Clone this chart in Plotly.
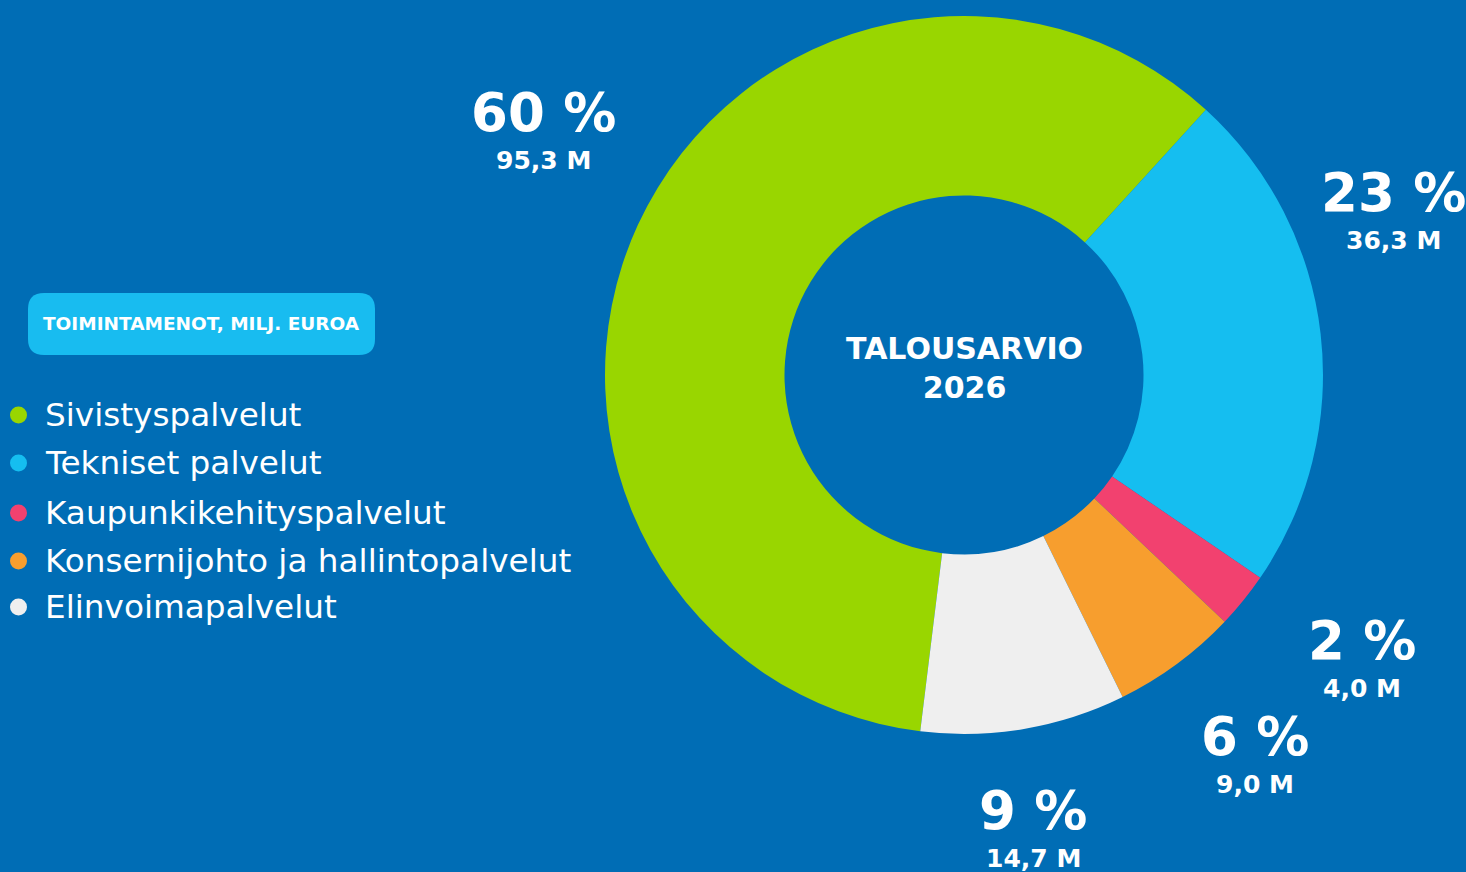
import plotly.graph_objects as go

categories = ["Sivistyspalvelut", "Tekniset palvelut", "Kaupunkikehityspalvelut",
              "Konsernijohto ja hallintopalvelut", "Elinvoimapalvelut"]
values_meur = [95.3, 36.3, 4.0, 9.0, 14.7]
percent_labels = ["60 %", "23 %", "2 %", "6 %", "9 %"]
value_labels = ["95,3 M", "36,3 M", "4,0 M", "9,0 M", "14,7 M"]
center_title = "TALOUSARVIO<br>2026"
legend_title = "TOIMINTAMENOT, MILJ. EUROA"

colors = ["#99D600", "#15BEF0", "#F2416F", "#F79E2E", "#EFEFEF"]
BG = "#006DB5"
W, H = 1466, 872
FONT = "DejaVu Sans"

# label anchor positions in pixels (style)
label_pos = [(543, 112), (1393, 192), (1362, 640), (1255, 736), (1033, 810)]
legend_y = [415, 463, 513, 561, 607]

def px(x):
    return x / W

def py(y):
    return 1 - y / H

cx, cy, R = 964, 375, 359
fig = go.Figure(go.Pie(
    labels=categories, values=values_meur, sort=False, direction="clockwise",
    rotation=187, hole=0.5, textinfo="none",
    marker=dict(colors=colors, line=dict(width=0)),
    domain=dict(x=[px(cx - R), px(cx + R)], y=[py(cy + R), py(cy - R)]),
    showlegend=False,
))

ann = []
for (x, y), p, v in zip(label_pos, percent_labels, value_labels):
    ann.append(dict(x=px(x), y=py(y), xref="paper", yref="paper", text="<b>%s</b>" % p,
                    showarrow=False, font=dict(family=FONT, size=53, color="white"),
                    xanchor="center", yanchor="middle"))
    ann.append(dict(x=px(x), y=py(y + 48), xref="paper", yref="paper", text="<b>%s</b>" % v,
                    showarrow=False, font=dict(family=FONT, size=25, color="white"),
                    xanchor="center", yanchor="middle"))

ann.append(dict(x=px(cx), y=py(368), xref="paper", yref="paper", text="<b>%s</b>" % center_title,
                showarrow=False, font=dict(family=FONT, size=30, color="white"),
                xanchor="center", yanchor="middle"))

shapes = []
# legend title box (rounded)
x0, x1, y0, y1, r = 28, 375, 293, 355, 16
path = (f"M {x0+r},{y0} L {x1-r},{y0} Q {x1},{y0} {x1},{y0+r} L {x1},{y1-r} Q {x1},{y1} {x1-r},{y1} "
        f"L {x0+r},{y1} Q {x0},{y1} {x0},{y1-r} L {x0},{y0+r} Q {x0},{y0} {x0+r},{y0} Z")

def conv(pth):
    out = []
    for tok in pth.split(" "):
        if "," in tok:
            a, b = tok.split(",")
            out.append(f"{px(float(a)):.5f},{py(float(b)):.5f}")
        else:
            out.append(tok)
    return " ".join(out)

shapes.append(dict(type="path", xref="paper", yref="paper", path=conv(path),
                   fillcolor="#18BCF0", line=dict(width=0)))
ann.append(dict(x=px(201), y=py(323), xref="paper", yref="paper", text="<b>%s</b>" % legend_title,
                showarrow=False, font=dict(family=FONT, size=18.5, color="white"),
                xanchor="center", yanchor="middle"))

for c, name, y in zip(colors, categories, legend_y):
    shapes.append(dict(type="circle", xref="paper", yref="paper",
                       x0=px(10), x1=px(27), y0=py(y + 8.5), y1=py(y - 8.5),
                       fillcolor=c, line=dict(width=0)))
    ann.append(dict(x=px(43), y=py(y), xref="paper", yref="paper", text=name,
                    showarrow=False, font=dict(family=FONT, size=32.7, color="white"),
                    xanchor="left", yanchor="middle"))

fig.update_layout(width=W, height=H, margin=dict(l=0, r=0, t=0, b=0),
                  paper_bgcolor=BG, plot_bgcolor=BG, annotations=ann, shapes=shapes)
fig.write_html("out.html", config={"displayModeBar": False},
               post_script="document.body.style.margin='0';document.body.style.background='%s';" % BG)
